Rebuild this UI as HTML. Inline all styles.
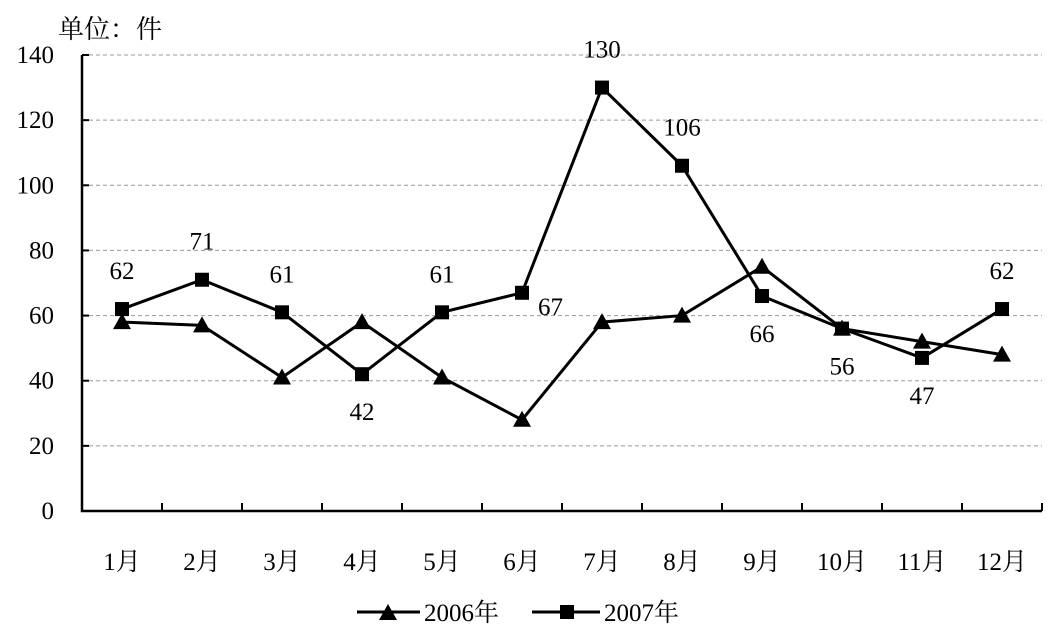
<!DOCTYPE html>
<html><head><meta charset="utf-8"><style>
body{margin:0;background:#fff}
svg text{font-family:"Liberation Serif","Noto Serif CJK SC",serif;fill:#000}
</style></head><body>
<svg width="1056" height="636" viewBox="0 0 1056 636">
<g id="g"></g>
</svg>
<script>
const categories=["1月","2月","3月","4月","5月","6月","7月","8月","9月","10月","11月","12月"];
const series2006=[58,57,41,58,41,28,58,60,75,56,52,48];
const series2007=[62,71,61,42,61,67,130,106,66,56,47,62];
const yTicks=[0,20,40,60,80,100,120,140];
const labelPos=["up","up","up","down","up","right","up","up","down","down","down","up"];
const L=82,R=1042,T=55,B=511,ymax=140;
const step=(R-L)/categories.length;
const x=i=>L+step*(i+0.5);
const y=v=>B-(v/ymax)*(B-T);
const g=document.getElementById('g');
const NS='http://www.w3.org/2000/svg';
function mk(t,a,p){const e=document.createElementNS(NS,t);for(const k in a)e.setAttribute(k,a[k]);(p||g).appendChild(e);return e;}
yTicks.forEach(v=>{
 if(v>0){const l=mk('line',{x1:L,x2:R,y1:y(v),y2:y(v),stroke:'#999','stroke-dasharray':'4,3','stroke-width':1});
 
 }
 const tk=mk('line',{x1:L,x2:L+7,y1:y(v),y2:y(v),stroke:'#000','stroke-width':2});
 
 
 const t=mk('text',{x:54,y:y(v)+8,'text-anchor':'end','font-size':25});
 t.textContent=v;
 
 
});
const ax=mk('path',{d:`M${L},${T}V${B}H${R}`,fill:'none',stroke:'#000','stroke-width':2.5});


for(let i=1;i<=categories.length;i++){
 const tk=mk('line',{x1:L+step*i,x2:L+step*i,y1:B,y2:B-8,stroke:'#000','stroke-width':2});
 
 
}
categories.forEach((c,i)=>{
 const t=mk('text',{x:x(i),y:570,'text-anchor':'middle','font-size':25});
 t.textContent=c;
 
 
});
function tri(cx,cy,name){const p=mk('polygon',{points:`${cx},${cy-9} ${cx-9},${cy+7} ${cx+9},${cy+7}`,fill:'#000'});
 
 }
function sq(cx,cy,name){const p=mk('rect',{x:cx-7,y:cy-7,width:14,height:14,fill:'#000'});
 
 }
const l6=mk('polyline',{points:series2006.map((v,i)=>x(i)+','+y(v)).join(' '),fill:'none',stroke:'#000','stroke-width':3});


const l7=mk('polyline',{points:series2007.map((v,i)=>x(i)+','+y(v)).join(' '),fill:'none',stroke:'#000','stroke-width':3});


series2006.forEach((v,i)=>tri(x(i),y(v),'point-2006'));
series2007.forEach((v,i)=>{
 sq(x(i),y(v),'point-2007');
 let tx=x(i),ty=y(v)-30,anc='middle';
 if(labelPos[i]==='down')ty=y(v)+46;
 if(labelPos[i]==='right'){tx=x(i)+16;ty=y(v)+22;anc='start';}
 const t=mk('text',{x:tx,y:ty,'text-anchor':anc,'font-size':25});
 t.textContent=v;
 
 
});
const u=mk('text',{x:58,y:38,'font-size':26});
u.textContent='单位：件';


const lg1=mk('line',{x1:357,x2:420,y1:612,y2:612,stroke:'#000','stroke-width':3});


tri(388,613,'legend-marker-2006');
const t1=mk('text',{x:424,y:621,'font-size':25});t1.textContent='2006年';


const lg2=mk('line',{x1:532,x2:600,y1:612,y2:612,stroke:'#000','stroke-width':3});


sq(567,612,'legend-marker-2007');
const t2=mk('text',{x:604,y:621,'font-size':25});t2.textContent='2007年';


</script>
</body></html>
